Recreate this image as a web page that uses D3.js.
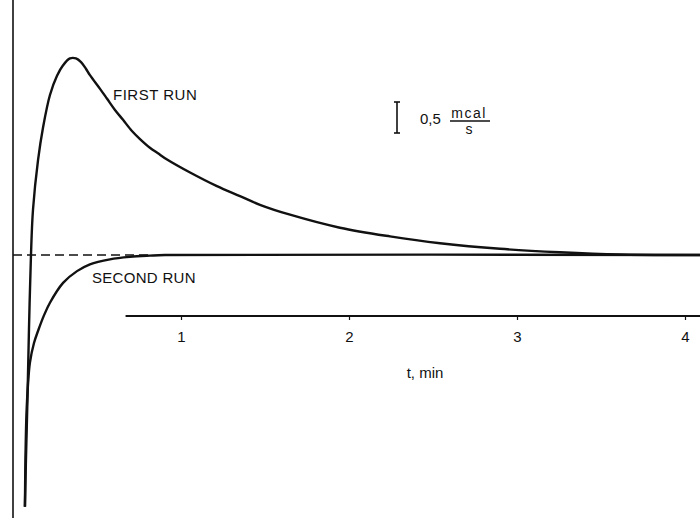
<!DOCTYPE html>
<html>
<head>
<meta charset="utf-8">
<script src="https://cdn.jsdelivr.net/npm/d3@7"></script>
<style>
  html, body { margin: 0; padding: 0; background: #fff; }
  svg { display: block; }
  text { font-family: "Liberation Sans", Arial, sans-serif; fill: #111; }
</style>
</head>
<body>
<div id="chart"></div>
<script>
// time in min, heat flow in mcal/s (baseline = 0)
const firstRunT = [0.071, 0.077, 0.086, 0.095, 0.107, 0.119, 0.149, 0.179, 0.220, 0.262, 0.298, 0.339, 0.375, 0.405, 0.435, 0.458, 0.518, 0.560, 0.607, 0.655, 0.708, 0.756, 0.815, 0.863, 0.917, 1.054, 1.214, 1.351, 1.470, 1.649, 1.946, 2.244, 2.542, 2.899, 3.256, 3.613, 3.970, 4.10];
const firstRunV = [-4.06, -3.31, -2.34, -1.21, 0.0, 0.73, 1.53, 2.06, 2.58, 2.89, 3.06, 3.17, 3.17, 3.11, 3.00, 2.90, 2.68, 2.52, 2.34, 2.18, 2.00, 1.87, 1.73, 1.64, 1.54, 1.33, 1.11, 0.95, 0.81, 0.65, 0.44, 0.30, 0.19, 0.10, 0.044, 0.008, 0.0, 0.0];

const secondRunT = [0.071, 0.074, 0.080, 0.089, 0.101, 0.125, 0.151, 0.185, 0.220, 0.298, 0.381, 0.458, 0.577, 0.696, 0.815, 0.905, 4.10];
const secondRunV = [-4.06, -3.31, -2.58, -2.10, -1.73, -1.42, -1.21, -0.97, -0.77, -0.45, -0.26, -0.15, -0.07, -0.03, -0.01, 0.0, 0.0];

const tickValues = [1, 2, 3, 4];
const tickLabels = ["1", "2", "3", "4"];
const axisStartT = 0.67;   // time axis line starts here
const dashEndT = 0.82;     // dashed baseline until second run meets it

const width = 700, height = 518;

const svg = d3.select("#chart").append("svg")
  .attr("width", width)
  .attr("height", height);

const x = d3.scaleLinear().domain([0, 4]).range([13, 685]);
const y = d3.scaleLinear().domain([-4, 3]).range([255 + 4 * 62, 255 - 3 * 62]);

// vertical t = 0 line
svg.append("line")
  .attr("x1", x(0)).attr("x2", x(0))
  .attr("y1", 0).attr("y2", height)
  .attr("stroke", "#111").attr("stroke-width", 1.6);

// dashed baseline
svg.append("line")
  .attr("x1", x(0)).attr("x2", x(dashEndT))
  .attr("y1", y(0)).attr("y2", y(0))
  .attr("stroke", "#111").attr("stroke-width", 1.6)
  .attr("stroke-dasharray", "9,5");

// time axis
const axisY = 316;
const axis = svg.append("g")
  .attr("transform", `translate(0,${axisY})`)
  .call(d3.axisBottom(x)
    .tickValues(tickValues)
    .tickFormat((d, i) => tickLabels[i])
    .tickSize(4)
    .tickPadding(11));
axis.select(".domain").remove();
axis.selectAll(".tick line").attr("stroke", "#111").attr("stroke-width", 1.2);
axis.selectAll(".tick text")
  .attr("font-size", 15)
  .attr("font-family", "Liberation Sans, Arial, sans-serif")
  .attr("fill", "#111");
axis.append("line")
  .attr("x1", x(axisStartT)).attr("x2", width)
  .attr("y1", 0).attr("y2", 0)
  .attr("stroke", "#111").attr("stroke-width", 1.8);

svg.append("text")
  .attr("x", 425).attr("y", 378)
  .attr("text-anchor", "middle")
  .attr("font-size", 15)
  .text("t, min");

// curves
const line = d3.line()
  .x(d => x(d[0]))
  .y(d => y(d[1]))
  .curve(d3.curveCatmullRom.alpha(0.5));

const series = [
  { name: "FIRST RUN", t: firstRunT, v: firstRunV },
  { name: "SECOND RUN", t: secondRunT, v: secondRunV }
];

svg.selectAll("path.run")
  .data(series)
  .join("path")
  .attr("class", "run")
  .attr("d", s => line(s.t.map((t, i) => [t, s.v[i]])))
  .attr("fill", "none")
  .attr("stroke", "#111")
  .attr("stroke-width", 2.4)
  .attr("stroke-linejoin", "round");

svg.append("text")
  .attr("x", 113).attr("y", 100)
  .attr("font-size", 15)
  .attr("letter-spacing", 0.5)
  .text("FIRST RUN");

svg.append("text")
  .attr("x", 92).attr("y", 283)
  .attr("font-size", 15)
  .attr("letter-spacing", 0.3)
  .text("SECOND RUN");

// scale bar: 0.5 mcal/s
const barX = 397;
const barTop = 102;
const barBottom = barTop + (y(0) - y(0.5));
const bar = svg.append("g").attr("stroke", "#111").attr("stroke-width", 1.6);
bar.append("line").attr("x1", barX).attr("x2", barX).attr("y1", barTop).attr("y2", barBottom);
bar.append("line").attr("x1", barX - 3).attr("x2", barX + 3).attr("y1", barTop).attr("y2", barTop);
bar.append("line").attr("x1", barX - 3).attr("x2", barX + 3).attr("y1", barBottom).attr("y2", barBottom);

svg.append("text")
  .attr("x", 420).attr("y", 124)
  .attr("font-size", 15)
  .text("0,5");
svg.append("text")
  .attr("x", 469).attr("y", 118)
  .attr("text-anchor", "middle")
  .attr("font-size", 14)
  .attr("letter-spacing", 1.5)
  .text("mcal");
svg.append("line")
  .attr("x1", 450).attr("x2", 490)
  .attr("y1", 121).attr("y2", 121)
  .attr("stroke", "#111").attr("stroke-width", 1.3);
svg.append("text")
  .attr("x", 469).attr("y", 134)
  .attr("text-anchor", "middle")
  .attr("font-size", 14)
  .text("s");
</script>
</body>
</html>
